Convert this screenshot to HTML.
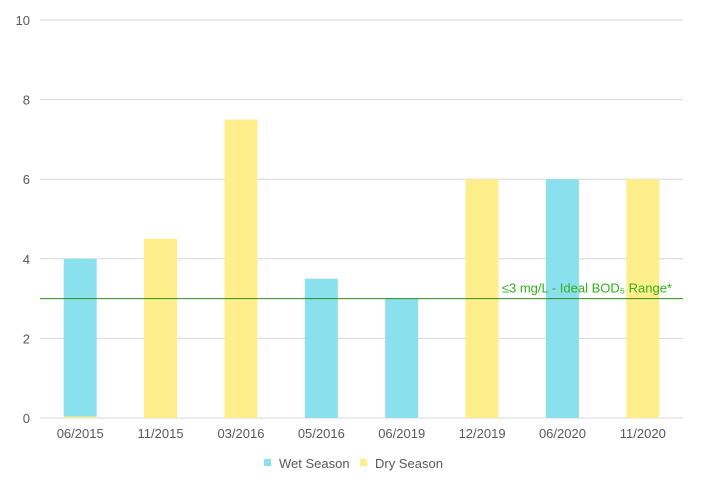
<!DOCTYPE html>
<html><head><meta charset="utf-8"><style>
body{margin:0;background:#fff;font-family:"Liberation Sans",sans-serif;}
</style></head><body>
<svg id="c" width="702" height="498" font-family="Liberation Sans, sans-serif"></svg>
<script>
const categories=["06/2015","11/2015","03/2016","05/2016","06/2019","12/2019","06/2020","11/2020"];
const wetValues=[4,null,null,3.5,3,null,6,null];
const dryValues=[0,4.5,7.5,null,null,6,null,6];
const yTicks=[0,2,4,6,8,10];
const refValue=3;
const NS="http://www.w3.org/2000/svg";
const svg=document.getElementById("c");
const x0=40,x1=683,y0=418,y1=20,yMax=10;
const band=(x1-x0)/categories.length;
const yS=v=>y0-(v/yMax)*(y0-y1);
const xS=i=>x0+band*(i+0.5);
function mk(t,a){const e=document.createElementNS(NS,t);for(const k in a)e.setAttribute(k,a[k]);svg.appendChild(e);return e;}
yTicks.forEach(t=>{
 const l=mk("line",{x1:x0,x2:x1,y1:yS(t),y2:yS(t),stroke:"#d9d9d9","stroke-width":1});
 
 
 const tx=mk("text",{x:30,y:yS(t)+5,"text-anchor":"end","font-size":13,fill:"#595959"});
 tx.textContent=t;
 
 
});
const bw=33;
categories.forEach((c,i)=>{
 if(dryValues[i]!=null){
  const h=Math.max(1.5,y0-yS(dryValues[i]));
  const r=mk("rect",{x:xS(i)-bw/2,y:y0-h,width:bw,height:h,fill:"#ffee8c"});
  
  
 }
 if(wetValues[i]!=null){
  const r=mk("rect",{x:xS(i)-bw/2,y:yS(wetValues[i]),width:bw,height:y0-yS(wetValues[i])-(dryValues[i]!=null?1.5:0),fill:"#8ae0ec"});
  
  
 }
 const t=mk("text",{x:xS(i),y:438,"text-anchor":"middle","font-size":13,fill:"#595959"});
 t.textContent=c;
 
 
});
const rl=mk("line",{x1:x0,x2:x1,y1:yS(refValue),y2:yS(refValue),stroke:"#2e8b1a","stroke-width":1});


const rt=mk("text",{x:672,y:yS(refValue)-6,"text-anchor":"end","font-size":13,fill:"#33b01a"});
rt.textContent="≤3 mg/L - Ideal BOD₅ Range*";


const leg=[["Wet Season","#8ae0ec",264],["Dry Season","#ffee8c",360]];
leg.forEach(([n,col,x])=>{
 const s=mk("rect",{x:x,y:459,width:7,height:7,fill:col});
 
 
 const t=mk("text",{x:x+15,y:468,"font-size":13,fill:"#595959"});
 t.textContent=n;
 
 
});
</script>
</body></html>
